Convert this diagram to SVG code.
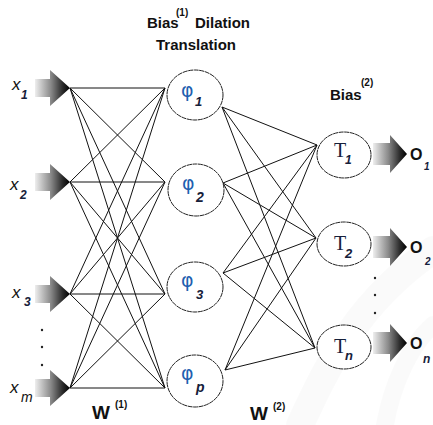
<svg xmlns="http://www.w3.org/2000/svg" width="433" height="425" viewBox="0 0 433 425">
<defs>
<linearGradient id="ag" x1="0" y1="0" x2="1" y2="0">
<stop offset="0" stop-color="#eeeeee"/>
<stop offset="0.45" stop-color="#8a8a8a"/>
<stop offset="0.8" stop-color="#282828"/>
<stop offset="1" stop-color="#000"/>
</linearGradient>
<polygon id="arrowIn" points="0,-9 15,-9 15,-18 35,0 15,18 15,9 0,9"/>
<polygon id="arrowOut" points="0,-11 17,-11 17,-19 34,0 17,19 17,11 0,11"/>
</defs>
<style>
.bold{font-family:"Liberation Sans",Arial,sans-serif;font-weight:bold;fill:#111}
.xl{font-family:"Liberation Sans",Arial,sans-serif;font-style:italic;fill:#111}
.node{fill:#fff;stroke:#222;stroke-width:1;stroke-dasharray:5 0.6}
.phi{font-family:"DejaVu Sans","Liberation Sans",sans-serif;fill:#1f5fb0;font-size:19px}
.sub{font-family:"Liberation Sans",Arial,sans-serif;font-weight:bold;font-style:italic;fill:#16203a}
.T{font-family:"Liberation Serif","Times New Roman",serif;fill:#16203a;font-size:20px}
.dot{fill:#222}
.conn line{stroke:#111;stroke-width:1}
</style>
<rect width="433" height="425" fill="#fff"/>
<g id="watermark" fill="none" stroke="#000" stroke-linecap="round">
<path d="M300,425 C330,360 360,300 433,250" stroke-width="28" stroke-opacity="0.02"/>
<path d="M385,425 C392,385 410,345 433,325" stroke-width="18" stroke-opacity="0.018"/>
</g>
<g id="title">
<text class="bold" x="147" y="28" font-size="15">Bias</text>
<text class="bold" x="176" y="16" font-size="10">(1)</text>
<text class="bold" x="195" y="28" font-size="15">Dilation</text>
<text class="bold" x="156" y="50" font-size="15">Translation</text>
</g>
<g id="bias2">
<text class="bold" x="330" y="100" font-size="15">Bias</text>
<text class="bold" x="361" y="86" font-size="10">(2)</text>
</g>
<g class="conn" id="connectors">
<line x1="70" y1="88" x2="165" y2="88"/><line x1="70" y1="88" x2="165" y2="182"/><line x1="70" y1="88" x2="165" y2="294"/><line x1="70" y1="88" x2="165" y2="388"/>
<line x1="70" y1="182" x2="165" y2="88"/><line x1="70" y1="182" x2="165" y2="182"/><line x1="70" y1="182" x2="165" y2="294"/><line x1="70" y1="182" x2="165" y2="388"/>
<line x1="70" y1="294" x2="165" y2="88"/><line x1="70" y1="294" x2="165" y2="182"/><line x1="70" y1="294" x2="165" y2="294"/><line x1="70" y1="294" x2="165" y2="388"/>
<line x1="70" y1="388" x2="165" y2="88"/><line x1="70" y1="388" x2="165" y2="182"/><line x1="70" y1="388" x2="165" y2="294"/><line x1="70" y1="388" x2="165" y2="388"/>
<line x1="222" y1="107" x2="317" y2="145"/><line x1="222" y1="107" x2="316" y2="238"/><line x1="222" y1="107" x2="315" y2="348"/>
<line x1="223" y1="183" x2="317" y2="145"/><line x1="223" y1="183" x2="316" y2="238"/><line x1="223" y1="183" x2="315" y2="348"/>
<line x1="223" y1="273" x2="317" y2="145"/><line x1="223" y1="273" x2="316" y2="238"/><line x1="223" y1="273" x2="315" y2="348"/>
<line x1="225" y1="370" x2="317" y2="145"/><line x1="225" y1="370" x2="316" y2="238"/><line x1="225" y1="370" x2="315" y2="348"/>
</g>
<g id="in1"><use href="#arrowIn" x="35" y="88" fill="url(#ag)"/><text class="xl" x="12" y="90" font-size="17">x</text><text class="sub" x="21" y="99" font-size="12">1</text></g>
<g id="in2"><use href="#arrowIn" x="35" y="182" fill="url(#ag)"/><text class="xl" x="10" y="190" font-size="17">x</text><text class="sub" x="20" y="199" font-size="12" font-weight="normal">2</text></g>
<g id="in3"><use href="#arrowIn" x="35" y="294" fill="url(#ag)"/><text class="xl" x="12" y="298" font-size="17">x</text><text class="sub" x="24" y="306" font-size="12" font-weight="normal">3</text></g>
<g id="inm"><use href="#arrowIn" x="35" y="388" fill="url(#ag)"/><text class="xl" x="10" y="393" font-size="17">x</text><text class="xl" x="21" y="402" font-size="14">m</text></g>
<g id="dotsIn"><circle class="dot" cx="42" cy="330" r="1.2"/><circle class="dot" cx="42" cy="347" r="1.2"/><circle class="dot" cx="42" cy="365" r="1.2"/></g>
<g id="phi1"><ellipse class="node" cx="195" cy="95" rx="28" ry="25"/><text class="phi" x="181" y="97">φ</text><text class="sub" x="195" y="106" font-size="13">1</text></g>
<g id="phi2"><ellipse class="node" cx="196" cy="190" rx="28" ry="26"/><text class="phi" x="182" y="190">φ</text><text class="sub" x="196" y="202" font-size="14" font-style="normal" font-weight="normal">2</text></g>
<g id="phi3"><ellipse class="node" cx="195" cy="287" rx="28" ry="25"/><text class="phi" x="181" y="287">φ</text><text class="sub" x="196" y="299" font-size="13" font-weight="normal">3</text></g>
<g id="phip"><ellipse class="node" cx="195" cy="381" rx="28" ry="26"/><text class="phi" x="181" y="380">φ</text><text class="sub" x="196" y="392" font-size="14">p</text></g>
<g id="T1"><ellipse class="node" cx="344" cy="155" rx="27" ry="23"/><text class="T" x="334" y="157">T</text><text class="sub" x="345" y="164" font-size="12">1</text></g>
<g id="T2"><ellipse class="node" cx="344" cy="244" rx="27" ry="22"/><text class="T" x="334" y="250">T</text><text class="sub" x="345" y="258" font-size="13" font-style="normal" font-weight="normal">2</text></g>
<g id="Tn"><ellipse class="node" cx="344" cy="347" rx="27" ry="22"/><text class="T" x="334" y="353">T</text><text class="sub" x="345" y="360" font-size="13" font-weight="normal">n</text></g>
<g id="out1"><use href="#arrowOut" x="373" y="154" fill="url(#ag)"/><text class="bold" x="410" y="160" font-size="16">O</text><text class="sub" x="424" y="170" font-size="10">1</text></g>
<g id="out2"><use href="#arrowOut" x="373" y="247" fill="url(#ag)"/><text class="bold" x="410" y="253" font-size="16">O</text><text class="sub" x="425" y="265" font-size="10">2</text></g>
<g id="outn"><use href="#arrowOut" x="373" y="343" fill="url(#ag)"/><text class="bold" x="410" y="349" font-size="16">O</text><text class="sub" x="423" y="363" font-size="12">n</text></g>
<g id="dotsOut"><circle class="dot" cx="375" cy="278" r="1.2"/><circle class="dot" cx="375" cy="295" r="1.2"/><circle class="dot" cx="375" cy="313" r="1.2"/></g>
<g id="W1"><text class="bold" x="92" y="419" font-size="19">W</text><text class="bold" x="115" y="408" font-size="10">(1)</text></g>
<g id="W2"><text class="bold" x="250" y="420" font-size="19">W</text><text class="bold" x="273" y="410" font-size="10">(2)</text></g>
</svg>
